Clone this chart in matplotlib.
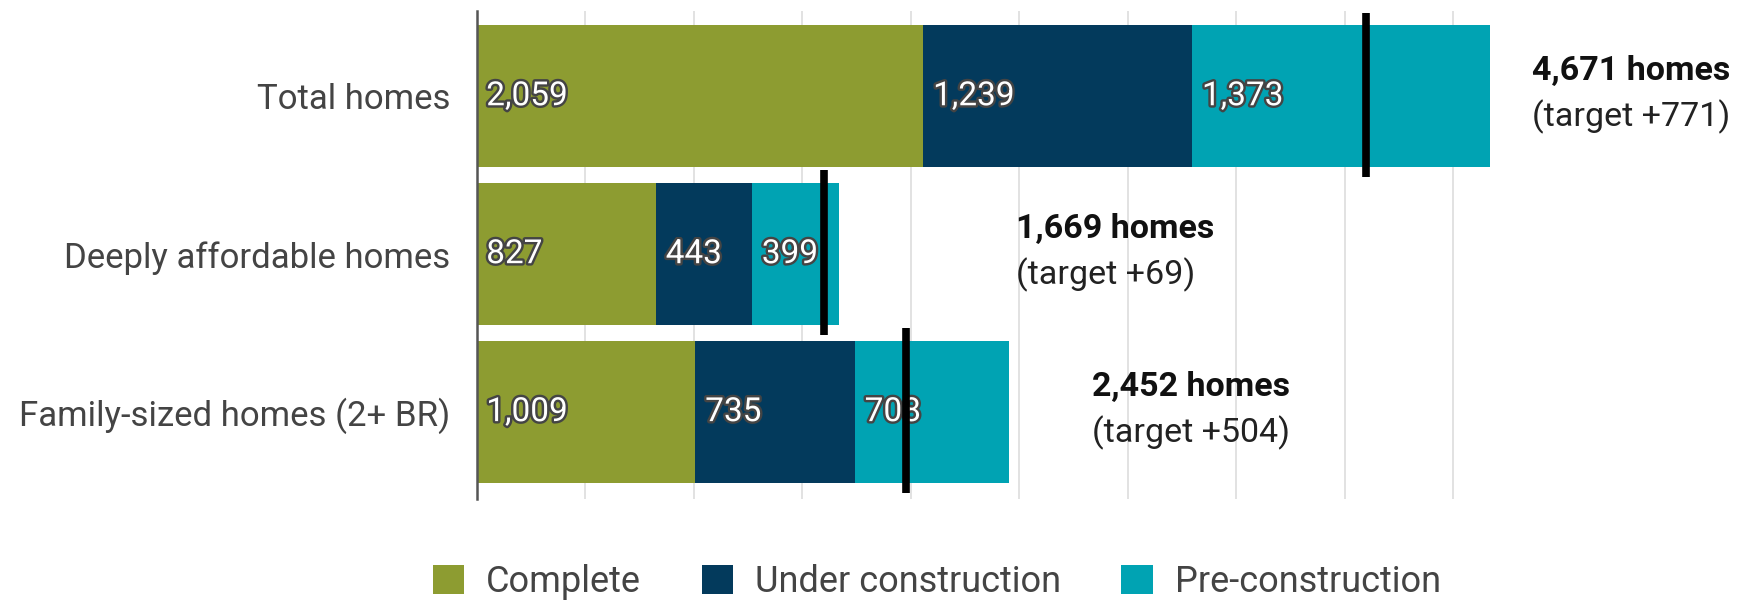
import matplotlib
matplotlib.use("Agg")
import matplotlib.pyplot as plt
import matplotlib.patheffects as pe
from matplotlib.patches import Patch
from matplotlib import font_manager

# data
categories = ["Total homes", "Deeply affordable homes", "Family-sized homes (2+ BR)"]
series_names = ["Complete", "Under construction", "Pre-construction"]
complete = [2059, 827, 1009]
under_construction = [1239, 443, 735]
pre_construction = [1373, 399, 708]
targets = [4100, 1600, 1980]
totals_text = ["4,671 homes", "1,669 homes", "2,452 homes"]
target_text = ["(target +771)", "(target +69)", "(target +504)"]

colors = ["#8d9c31", "#033a5c", "#00a3b3"]

# pick a condensed font if there is one
names = {f.name for f in font_manager.fontManager.ttflist}
if "Liberation Sans Narrow" in names:
    font = "Liberation Sans Narrow"
    fs, fs_cat, fs_note, fs_leg = 30, 30, 30, 30
else:
    font = "Roboto"
    fs, fs_cat, fs_note, fs_leg = 24, 25, 24.5, 26
plt.rcParams["font.family"] = [font, "DejaVu Sans"]

fig = plt.figure(figsize=(17.5, 6.03), dpi=100)
ax = fig.add_axes([0.2723, 0.1725, 0.62, 0.8093])

series = [complete, under_construction, pre_construction]
y = range(len(categories))
left = [0] * len(categories)
outline = [pe.withStroke(linewidth=3.5, foreground="#444444")]
for vals, col in zip(series, colors):
    ax.barh(y, vals, left=left, height=0.9, color=col, zorder=2)
    for i, v in enumerate(vals):
        ax.annotate(f"{v:,}", (left[i], i), xytext=(7, 0), textcoords="offset points",
                    ha="left", va="center", color="white", fontsize=fs,
                    path_effects=outline, zorder=4)
    left = [l + v for l, v in zip(left, vals)]

# target markers
for i, t in enumerate(targets):
    ax.plot([t, t], [i - 0.53, i + 0.51], color="black", lw=5.5,
            solid_capstyle="butt", zorder=5)

# total labels to the right
label_x = [4865, 2486, 2836]
for i in range(len(categories)):
    ax.text(label_x[i], i - 0.16, totals_text[i], ha="left", va="center",
            fontsize=fs_note, fontweight="bold", color="#111111")
    ax.text(label_x[i], i + 0.13, target_text[i], ha="left", va="center",
            fontsize=fs_note, color="#222222")

ax.set_xlim(0, 5000)
ax.set_ylim(2.55, -0.54)
ax.set_xticks(range(500, 5000, 500))
ax.set_xticklabels([])
ax.set_yticks(list(y))
ax.set_yticklabels(categories, fontsize=fs_cat, color="#444444")
ax.tick_params(axis="both", length=0)
ax.tick_params(axis="y", pad=19)
ax.grid(axis="x", color="#dddddd", lw=1.2, zorder=0)
ax.set_axisbelow(True)
for s in ["top", "right", "bottom"]:
    ax.spines[s].set_visible(False)
ax.spines["left"].set_color("#555555")
ax.spines["left"].set_linewidth(1.8)
ax.spines["left"].set_zorder(6)

handles = [Patch(facecolor=c, edgecolor="none") for c in colors]
fig.legend(handles, series_names, loc="center", bbox_to_anchor=(0.5354, 0.035),
           ncol=3, frameon=False, fontsize=fs_leg, handlelength=0.86, handleheight=0.86,
           handletextpad=0.62, columnspacing=1.67, labelcolor="#444444")

fig.savefig("out.png", dpi=100)
